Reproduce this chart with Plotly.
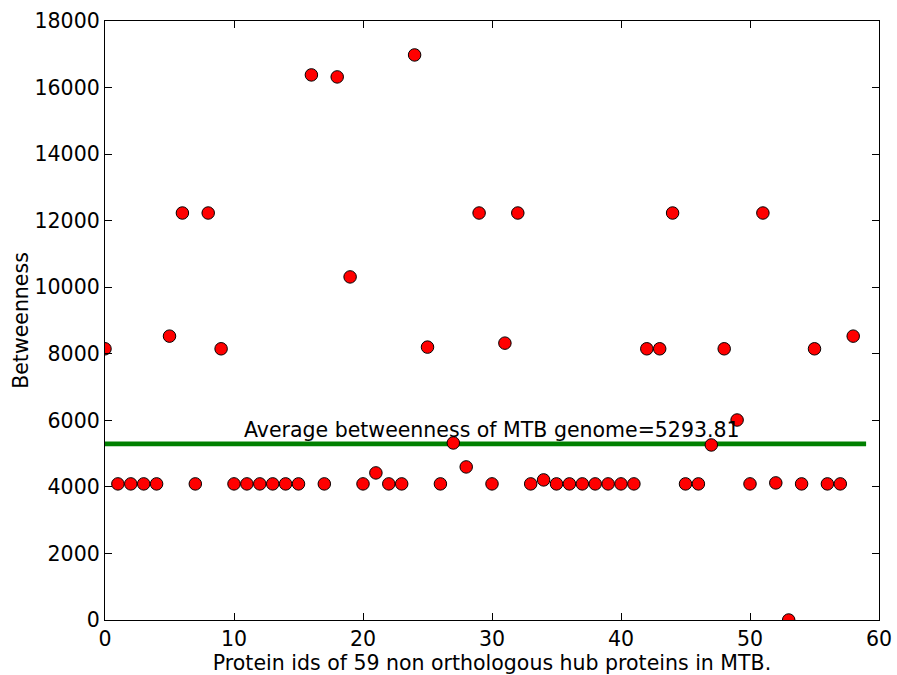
import plotly.graph_objects as go

protein_ids = list(range(59))
betweenness = [
    8150, 4090, 4090, 4090, 4090, 8530, 12230, 4090, 12230, 8150,
    4090, 4090, 4090, 4090, 4090, 4090, 16380, 4090, 16320, 10310,
    4090, 4420, 4090, 4090, 16980, 8200, 4090, 5320, 4600, 12230,
    4090, 8320, 12230, 4090, 4210, 4090, 4090, 4090, 4090, 4090,
    4090, 4090, 8150, 8150, 12230, 4090, 4090, 5260, 8150, 6010,
    4090, 12230, 4120, 0, 4090, 8150, 4090, 4090, 8530,
]
avg_x = [0, 59]
avg_value = 5293.81
avg_label = "Average betweenness of MTB genome=5293.81"
x_ticks = [0, 10, 20, 30, 40, 50, 60]
y_ticks = [0, 2000, 4000, 6000, 8000, 10000, 12000, 14000, 16000, 18000]

FONT = "DejaVu Sans"
fs = 20.5

fig = go.Figure()
fig.add_trace(go.Scatter(
    x=avg_x, y=[avg_value, avg_value], mode="lines",
    line=dict(color="#008000", width=4.6), showlegend=False, hoverinfo="skip"))
fig.add_trace(go.Scatter(
    x=protein_ids, y=betweenness, mode="markers",
    marker=dict(color="#ff0000", size=12.5, line=dict(color="black", width=1)),
    showlegend=False, cliponaxis=True))

fig.add_annotation(x=30, y=avg_value, text=avg_label, showarrow=False,
                   xanchor="center", yanchor="bottom", yshift=0,
                   font=dict(family=FONT, size=fs, color="black"))

axis_common = dict(showgrid=False, zeroline=False, showline=True, linecolor="black",
                   linewidth=1.3, mirror="ticks", ticks="inside", ticklen=7,
                   tickwidth=1.3, tickcolor="black",
                   tickfont=dict(family=FONT, size=fs, color="black"))
fig.update_xaxes(range=[0, 60], tickvals=x_ticks, ticktext=[str(v) for v in x_ticks],
                 title=dict(text="Protein ids of 59 non orthologous hub proteins in MTB.",
                            font=dict(family=FONT, size=fs, color="black"), standoff=0),
                 automargin=False, **axis_common)
fig.update_yaxes(range=[0, 18000], tickvals=y_ticks, ticktext=[str(v) for v in y_ticks],
                 title=dict(text="Betweenness",
                            font=dict(family=FONT, size=fs, color="black"), standoff=0),
                 automargin=False, **axis_common)
fig.update_layout(width=897, height=675, margin=dict(l=105, r=18, t=21, b=55),
                  plot_bgcolor="white", paper_bgcolor="white",
                  font=dict(family=FONT, size=fs, color="black"))
fig.write_html("out.html")
